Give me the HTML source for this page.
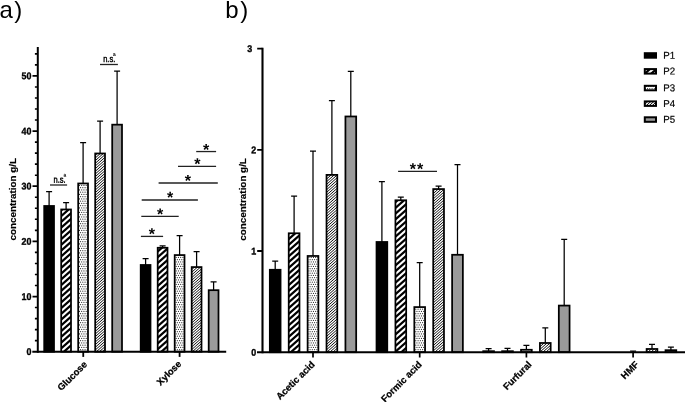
<!DOCTYPE html>
<html lang="en"><head><meta charset="utf-8"><title>Figure</title>
<style>html,body{margin:0;padding:0;background:#fff;overflow:hidden}svg{display:block}text{font-family:"Liberation Sans", sans-serif;fill:#000}</style>
</head><body>
<svg width="685" height="402" viewBox="0 0 685 402">
<defs>
<pattern id="p2" patternUnits="userSpaceOnUse" width="26" height="23"><rect width="26" height="23" fill="#fff"/><path d="M-26.000 23.000L52.000 -46.000M-26.000 28.750L52.000 -40.250M-26.000 34.500L52.000 -34.500M-26.000 40.250L52.000 -28.750M-26.000 46.000L52.000 -23.000M-26.000 51.750L52.000 -17.250M-26.000 57.500L52.000 -11.500M-26.000 63.250L52.000 -5.750M-26.000 69.000L52.000 0.000" stroke="#000" stroke-width="2.2" fill="none"/></pattern>
<pattern id="p3" patternUnits="userSpaceOnUse" width="9" height="9"><rect width="9" height="9" fill="#fff"/><g fill="#2a2a2a"><circle cx="0.700" cy="0.900" r="0.58"/><circle cx="2.950" cy="0.900" r="0.58"/><circle cx="5.200" cy="0.900" r="0.58"/><circle cx="7.450" cy="0.900" r="0.58"/><circle cx="-0.425" cy="3.150" r="0.58"/><circle cx="1.825" cy="3.150" r="0.58"/><circle cx="4.075" cy="3.150" r="0.58"/><circle cx="6.325" cy="3.150" r="0.58"/><circle cx="8.575" cy="3.150" r="0.58"/><circle cx="0.700" cy="5.400" r="0.58"/><circle cx="2.950" cy="5.400" r="0.58"/><circle cx="5.200" cy="5.400" r="0.58"/><circle cx="7.450" cy="5.400" r="0.58"/><circle cx="-0.425" cy="7.650" r="0.58"/><circle cx="1.825" cy="7.650" r="0.58"/><circle cx="4.075" cy="7.650" r="0.58"/><circle cx="6.325" cy="7.650" r="0.58"/><circle cx="8.575" cy="7.650" r="0.58"/></g></pattern>
<pattern id="p4" patternUnits="userSpaceOnUse" width="9" height="8"><rect width="9" height="8" fill="#fff"/><path d="M-9.000 8.000L18.000 -16.000M-9.000 10.667L18.000 -13.333M-9.000 13.333L18.000 -10.667M-9.000 16.000L18.000 -8.000M-9.000 18.667L18.000 -5.333M-9.000 21.333L18.000 -2.667M-9.000 24.000L18.000 0.000" stroke="#000" stroke-width="0.95" fill="none"/></pattern>
</defs>
<rect width="685" height="402" fill="#fff"/>
<text x="-0.6" y="17.6" font-size="24">a<tspan dx="1.4">)</tspan></text>
<text x="225.2" y="17.6" font-size="24">b<tspan dx="1.6">)</tspan></text>
<path d="M49.10 206.50V191.45M46.10 191.50H52.10" stroke="#000" stroke-width="1.25" fill="none"/>
<rect x="44.20" y="205.97" width="9.80" height="145.72" fill="#000" stroke="#000" stroke-width="1.75"/>
<path d="M66.10 210.00V202.65M63.10 202.70H69.10" stroke="#000" stroke-width="1.25" fill="none"/>
<rect x="61.20" y="209.47" width="9.80" height="142.22" fill="url(#p2)" stroke="#000" stroke-width="1.75"/>
<path d="M83.10 184.00V142.65M80.10 142.70H86.10" stroke="#000" stroke-width="1.25" fill="none"/>
<rect x="78.20" y="183.47" width="9.80" height="168.22" fill="url(#p3)" stroke="#000" stroke-width="1.75"/>
<path d="M100.10 154.00V121.05M97.10 121.10H103.10" stroke="#000" stroke-width="1.25" fill="none"/>
<rect x="95.20" y="153.47" width="9.80" height="198.22" fill="url(#p4)" stroke="#000" stroke-width="1.75"/>
<path d="M117.10 125.20V71.15M114.10 71.20H120.10" stroke="#000" stroke-width="1.25" fill="none"/>
<rect x="112.20" y="124.67" width="9.80" height="227.02" fill="#9a9a9a" stroke="#000" stroke-width="1.75"/>
<path d="M145.60 265.50V258.65M142.60 258.70H148.60" stroke="#000" stroke-width="1.25" fill="none"/>
<rect x="140.70" y="264.98" width="9.80" height="86.72" fill="#000" stroke="#000" stroke-width="1.75"/>
<path d="M162.60 248.30V245.85M159.60 245.90H165.60" stroke="#000" stroke-width="1.25" fill="none"/>
<rect x="157.70" y="247.78" width="9.80" height="103.92" fill="url(#p2)" stroke="#000" stroke-width="1.75"/>
<path d="M179.60 255.60V235.65M176.60 235.70H182.60" stroke="#000" stroke-width="1.25" fill="none"/>
<rect x="174.70" y="255.07" width="9.80" height="96.62" fill="url(#p3)" stroke="#000" stroke-width="1.75"/>
<path d="M196.60 267.60V251.45M193.60 251.50H199.60" stroke="#000" stroke-width="1.25" fill="none"/>
<rect x="191.70" y="267.08" width="9.80" height="84.62" fill="url(#p4)" stroke="#000" stroke-width="1.75"/>
<path d="M213.60 290.70V281.75M210.60 281.80H216.60" stroke="#000" stroke-width="1.25" fill="none"/>
<rect x="208.70" y="290.18" width="9.80" height="61.52" fill="#9a9a9a" stroke="#000" stroke-width="1.75"/>
<path d="M37.8 47V352.7" stroke="#000" stroke-width="2" fill="none"/>
<path d="M32.3 351.7H226.2" stroke="#000" stroke-width="2" fill="none"/>
<path d="M34.9 340.67H37.8M34.9 329.64H37.8M34.9 318.60H37.8M34.9 307.57H37.8M34.9 285.51H37.8M34.9 274.48H37.8M34.9 263.44H37.8M34.9 252.41H37.8M34.9 230.35H37.8M34.9 219.32H37.8M34.9 208.28H37.8M34.9 197.25H37.8M34.9 175.19H37.8M34.9 164.16H37.8M34.9 153.12H37.8M34.9 142.09H37.8M34.9 120.03H37.8M34.9 109.00H37.8M34.9 97.96H37.8M34.9 86.93H37.8M34.9 64.87H37.8M34.9 53.84H37.8" stroke="#000" stroke-width="1.6" fill="none"/>
<path d="M32.5 296.54H37.8M32.5 241.38H37.8M32.5 186.22H37.8M32.5 131.06H37.8M32.5 75.90H37.8" stroke="#000" stroke-width="1.8" fill="none"/>
<text transform="translate(31.4 355.10) rotate(0.04) scale(0.92 1)" font-size="9.7" font-weight="bold" stroke="#000" stroke-width="0.35" text-anchor="end">0</text>
<text transform="translate(31.4 299.94) rotate(0.04) scale(0.92 1)" font-size="9.7" font-weight="bold" stroke="#000" stroke-width="0.35" text-anchor="end">10</text>
<text transform="translate(31.4 244.78) rotate(0.04) scale(0.92 1)" font-size="9.7" font-weight="bold" stroke="#000" stroke-width="0.35" text-anchor="end">20</text>
<text transform="translate(31.4 189.62) rotate(0.04) scale(0.92 1)" font-size="9.7" font-weight="bold" stroke="#000" stroke-width="0.35" text-anchor="end">30</text>
<text transform="translate(31.4 134.46) rotate(0.04) scale(0.92 1)" font-size="9.7" font-weight="bold" stroke="#000" stroke-width="0.35" text-anchor="end">40</text>
<text transform="translate(31.4 79.30) rotate(0.04) scale(0.92 1)" font-size="9.7" font-weight="bold" stroke="#000" stroke-width="0.35" text-anchor="end">50</text>
<path d="M83.25 351.7V356.9" stroke="#000" stroke-width="1.8" fill="none"/>
<path d="M179.6 351.7V356.9" stroke="#000" stroke-width="1.8" fill="none"/>
<text transform="translate(16.2 199.2) rotate(-90)" font-size="9.85" font-weight="bold" text-anchor="middle" stroke="#000" stroke-width="0.2">concentration g/L</text>
<text transform="translate(87.70 365.00) rotate(-45)" font-size="9.45" font-weight="bold" text-anchor="end" stroke="#000" stroke-width="0.25">Glucose</text>
<text transform="translate(182.00 364.50) rotate(-45)" font-size="9.45" font-weight="bold" text-anchor="end" stroke="#000" stroke-width="0.25">Xylose</text>
<path d="M50.00 185.00H67.10" stroke="#222" stroke-width="1.3" fill="none"/>
<text transform="translate(53.60 182.70) rotate(0.04) scale(0.79 1)" font-size="9.5" stroke="#000" stroke-width="0.4">n.s.</text>
<text transform="translate(63.50 176.80) rotate(0.04) scale(0.9 1)" font-size="5.4" font-weight="bold">a</text>
<path d="M100.00 64.50H117.90" stroke="#222" stroke-width="1.3" fill="none"/>
<text transform="translate(103.20 62.00) rotate(0.04) scale(0.79 1)" font-size="9.5" stroke="#000" stroke-width="0.4">n.s.</text>
<text transform="translate(113.10 56.10) rotate(0.04) scale(0.9 1)" font-size="5.4" font-weight="bold">a</text>
<path d="M196.20 151.55H216.10" stroke="#222" stroke-width="1.3" fill="none"/>
<text transform="translate(206.20 154.95) rotate(0.04)" font-size="16" text-anchor="middle" font-weight="bold">*</text>
<path d="M178.00 166.30H216.10" stroke="#222" stroke-width="1.3" fill="none"/>
<text transform="translate(197.45 169.25) rotate(0.04)" font-size="16" text-anchor="middle" font-weight="bold">*</text>
<path d="M158.60 183.00H217.80" stroke="#222" stroke-width="1.3" fill="none"/>
<text transform="translate(187.90 186.05) rotate(0.04)" font-size="16" text-anchor="middle" font-weight="bold">*</text>
<path d="M141.70 200.00H197.90" stroke="#222" stroke-width="1.3" fill="none"/>
<text transform="translate(170.15 202.75) rotate(0.04)" font-size="16" text-anchor="middle" font-weight="bold">*</text>
<path d="M141.30 216.45H178.70" stroke="#222" stroke-width="1.3" fill="none"/>
<text transform="translate(160.05 219.55) rotate(0.04)" font-size="16" text-anchor="middle" font-weight="bold">*</text>
<path d="M140.90 236.40H163.10" stroke="#222" stroke-width="1.3" fill="none"/>
<text transform="translate(151.95 239.25) rotate(0.04)" font-size="16" text-anchor="middle" font-weight="bold">*</text>
<path d="M275.20 270.30V261.05M272.20 261.10H278.20" stroke="#000" stroke-width="1.25" fill="none"/>
<rect x="269.82" y="269.78" width="10.75" height="82.42" fill="#000" stroke="#000" stroke-width="1.75"/>
<path d="M294.10 233.80V195.95M291.10 196.00H297.10" stroke="#000" stroke-width="1.25" fill="none"/>
<rect x="288.73" y="233.28" width="10.75" height="118.92" fill="url(#p2)" stroke="#000" stroke-width="1.75"/>
<path d="M313.00 256.50V150.95M310.00 151.00H316.00" stroke="#000" stroke-width="1.25" fill="none"/>
<rect x="307.62" y="255.97" width="10.75" height="96.22" fill="url(#p3)" stroke="#000" stroke-width="1.75"/>
<path d="M331.90 175.40V100.65M328.90 100.70H334.90" stroke="#000" stroke-width="1.25" fill="none"/>
<rect x="326.52" y="174.88" width="10.75" height="177.32" fill="url(#p4)" stroke="#000" stroke-width="1.75"/>
<path d="M350.80 117.00V71.35M347.80 71.40H353.80" stroke="#000" stroke-width="1.25" fill="none"/>
<rect x="345.43" y="116.47" width="10.75" height="235.72" fill="#9a9a9a" stroke="#000" stroke-width="1.75"/>
<path d="M381.90 242.50V181.45M378.90 181.50H384.90" stroke="#000" stroke-width="1.25" fill="none"/>
<rect x="376.52" y="241.97" width="10.75" height="110.22" fill="#000" stroke="#000" stroke-width="1.75"/>
<path d="M400.80 200.80V196.95M397.80 197.00H403.80" stroke="#000" stroke-width="1.25" fill="none"/>
<rect x="395.43" y="200.28" width="10.75" height="151.92" fill="url(#p2)" stroke="#000" stroke-width="1.75"/>
<path d="M419.70 307.60V262.55M416.70 262.60H422.70" stroke="#000" stroke-width="1.25" fill="none"/>
<rect x="414.32" y="307.08" width="10.75" height="45.12" fill="url(#p3)" stroke="#000" stroke-width="1.75"/>
<path d="M438.60 189.60V185.95M435.60 186.00H441.60" stroke="#000" stroke-width="1.25" fill="none"/>
<rect x="433.22" y="189.07" width="10.75" height="163.12" fill="url(#p4)" stroke="#000" stroke-width="1.75"/>
<path d="M457.50 255.30V164.55M454.50 164.60H460.50" stroke="#000" stroke-width="1.25" fill="none"/>
<rect x="452.12" y="254.78" width="10.75" height="97.42" fill="#9a9a9a" stroke="#000" stroke-width="1.75"/>
<path d="M488.60 351.70V348.65M485.60 348.70H491.60" stroke="#000" stroke-width="1.25" fill="none"/>
<rect x="483.22" y="351.18" width="10.75" height="1.02" fill="#000" stroke="#000" stroke-width="1.75"/>
<path d="M507.50 351.70V348.35M504.50 348.40H510.50" stroke="#000" stroke-width="1.25" fill="none"/>
<rect x="502.12" y="351.18" width="10.75" height="1.02" fill="url(#p2)" stroke="#000" stroke-width="1.75"/>
<path d="M526.40 350.30V345.25M523.40 345.30H529.40" stroke="#000" stroke-width="1.25" fill="none"/>
<rect x="521.02" y="349.78" width="10.75" height="2.42" fill="url(#p3)" stroke="#000" stroke-width="1.75"/>
<path d="M545.30 343.50V327.75M542.30 327.80H548.30" stroke="#000" stroke-width="1.25" fill="none"/>
<rect x="539.92" y="342.98" width="10.75" height="9.22" fill="url(#p4)" stroke="#000" stroke-width="1.75"/>
<path d="M564.20 306.10V239.25M561.20 239.30H567.20" stroke="#000" stroke-width="1.25" fill="none"/>
<rect x="558.82" y="305.58" width="10.75" height="46.62" fill="#9a9a9a" stroke="#000" stroke-width="1.75"/>
<path d="M633.10 352.20V351.15M630.10 351.20H636.10" stroke="#000" stroke-width="1.25" fill="none"/>
<path d="M652.00 349.50V344.35M649.00 344.40H655.00" stroke="#000" stroke-width="1.25" fill="none"/>
<rect x="646.62" y="348.98" width="10.75" height="3.22" fill="url(#p4)" stroke="#000" stroke-width="1.75"/>
<path d="M670.90 350.70V347.15M667.90 347.20H673.90" stroke="#000" stroke-width="1.25" fill="none"/>
<rect x="665.52" y="350.18" width="10.75" height="2.02" fill="#9a9a9a" stroke="#000" stroke-width="1.75"/>
<path d="M262.5 47.8V353.2" stroke="#000" stroke-width="2.1" fill="none"/>
<path d="M257 352.2H685" stroke="#000" stroke-width="2" fill="none"/>
<path d="M257.2 251.00H262.5M257.2 149.80H262.5M257.2 48.60H262.5" stroke="#000" stroke-width="1.8" fill="none"/>
<text transform="translate(256.2 355.70) rotate(0.04) scale(0.92 1)" font-size="9.7" font-weight="bold" stroke="#000" stroke-width="0.35" text-anchor="end">0</text>
<text transform="translate(256.2 254.50) rotate(0.04) scale(0.92 1)" font-size="9.7" font-weight="bold" stroke="#000" stroke-width="0.35" text-anchor="end">1</text>
<text transform="translate(256.2 153.30) rotate(0.04) scale(0.92 1)" font-size="9.7" font-weight="bold" stroke="#000" stroke-width="0.35" text-anchor="end">2</text>
<text transform="translate(252.3 52.10) rotate(0.04) scale(0.92 1)" font-size="9.7" font-weight="bold" stroke="#000" stroke-width="0.35" text-anchor="end">3</text>
<path d="M313.0 352.2V357.5" stroke="#000" stroke-width="1.7" fill="none"/>
<path d="M419.7 352.2V357.5" stroke="#000" stroke-width="1.7" fill="none"/>
<path d="M526.4 352.2V357.5" stroke="#000" stroke-width="1.7" fill="none"/>
<path d="M633.1 352.2V357.5" stroke="#000" stroke-width="1.7" fill="none"/>
<text transform="translate(245.5 199.4) rotate(-90)" font-size="9.85" font-weight="bold" text-anchor="middle" stroke="#000" stroke-width="0.2">concentration g/L</text>
<text transform="translate(315.30 365.10) rotate(-45)" font-size="9.45" font-weight="bold" text-anchor="end" stroke="#000" stroke-width="0.25">Acetic acid</text>
<text transform="translate(422.40 365.20) rotate(-45)" font-size="9.45" font-weight="bold" text-anchor="end" stroke="#000" stroke-width="0.25">Formic acid</text>
<text transform="translate(532.20 365.20) rotate(-45)" font-size="9.45" font-weight="bold" text-anchor="end" stroke="#000" stroke-width="0.25">Furfural</text>
<text transform="translate(639.30 365.20) rotate(-45)" font-size="9.45" font-weight="bold" text-anchor="end" stroke="#000" stroke-width="0.25">HMF</text>
<path d="M398.10 171.40H437.00" stroke="#222" stroke-width="1.3" fill="none"/>
<text transform="translate(412.80 174.30) rotate(0.04)" x="0.00 7.30" font-size="16" text-anchor="middle" font-weight="bold">**</text>
<rect x="644.8" y="53.20" width="11.2" height="4.5" fill="#000" stroke="#000" stroke-width="2"/>
<text transform="translate(663.3 58.70) rotate(0.04) scale(0.97 1)" font-size="10" stroke="#000" stroke-width="0.2">P1</text>
<rect x="644.8" y="69.10" width="11.2" height="4.5" fill="url(#p2)" stroke="#000" stroke-width="2"/>
<text transform="translate(663.3 74.60) rotate(0.04) scale(0.97 1)" font-size="10" stroke="#000" stroke-width="0.2">P2</text>
<rect x="644.8" y="85.80" width="11.2" height="4.5" fill="url(#p3)" stroke="#000" stroke-width="2"/>
<text transform="translate(663.3 91.30) rotate(0.04) scale(0.97 1)" font-size="10" stroke="#000" stroke-width="0.2">P3</text>
<rect x="644.8" y="101.40" width="11.2" height="4.5" fill="url(#p4)" stroke="#000" stroke-width="2"/>
<text transform="translate(663.3 106.90) rotate(0.04) scale(0.97 1)" font-size="10" stroke="#000" stroke-width="0.2">P4</text>
<rect x="644.8" y="117.30" width="11.2" height="4.5" fill="#9a9a9a" stroke="#000" stroke-width="2"/>
<text transform="translate(663.3 122.80) rotate(0.04) scale(0.97 1)" font-size="10" stroke="#000" stroke-width="0.2">P5</text>
</svg>
</body></html>
